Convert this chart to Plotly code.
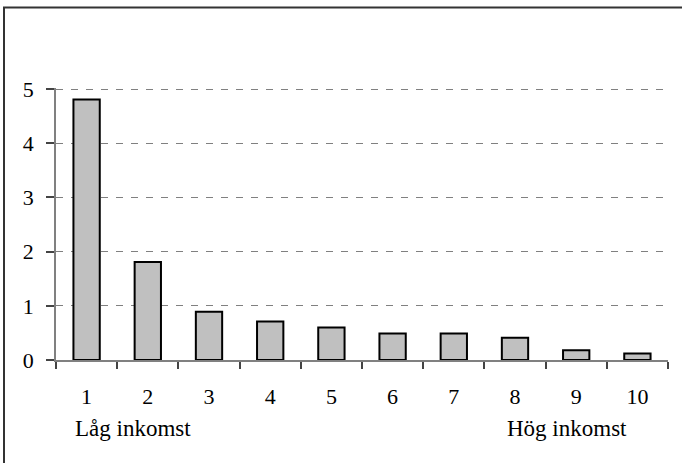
import plotly.graph_objects as go

categories = ["1", "2", "3", "4", "5", "6", "7", "8", "9", "10"]
values = [4.81, 1.81, 0.89, 0.71, 0.6, 0.49, 0.49, 0.41, 0.18, 0.12]
y_ticks = [0, 1, 2, 3, 4, 5]
low_label = "Låg inkomst"
high_label = "Hög inkomst"

W, H = 682, 463
L, R, T, B = 56, 14, 88, 103
pw, ph = W - L - R, H - T - B

def px_x(x):
    return (x - L) / pw

def px_y(y):
    return (H - B - y) / ph

FONT = "Liberation Serif, Times New Roman, serif"
FS = 22

fig = go.Figure(go.Bar(
    x=categories, y=values,
    marker=dict(color="#C0C0C0", line=dict(color="black", width=2)),
    hoverinfo="skip",
))

fig.update_layout(
    width=W, height=H,
    margin=dict(l=L, r=R, t=T, b=B),
    paper_bgcolor="white", plot_bgcolor="white",
    bargap=0.57,
    showlegend=False,
    font=dict(family=FONT, size=FS, color="black"),
    xaxis=dict(
        type="category", tickson="boundaries", ticks="outside", ticklen=7,
        tickcolor="#444", tickwidth=1.5,
        showline=True, linecolor="#808080", linewidth=1.5,
        showgrid=False, ticklabelstandoff=16,
        tickfont=dict(family=FONT, size=FS),
    ),
    yaxis=dict(
        range=[0, 5.02], tickvals=y_ticks, ticks="outside", ticklen=8,
        tickcolor="#444", tickwidth=1.5,
        showline=True, linecolor="#808080", linewidth=1.5,
        showgrid=True, gridcolor="#808080", gridwidth=1, griddash="7px,8px",
        zeroline=False, ticklabelstandoff=8,
        tickfont=dict(family=FONT, size=FS),
    ),
    annotations=[
        dict(text=low_label, x=px_x(133), y=px_y(428), xref="paper", yref="paper",
             showarrow=False, xanchor="center", yanchor="middle",
             font=dict(family=FONT, size=23)),
        dict(text=high_label, x=px_x(567), y=px_y(428), xref="paper", yref="paper",
             showarrow=False, xanchor="center", yanchor="middle",
             font=dict(family=FONT, size=23)),
    ],
    shapes=[
        dict(type="rect", xref="paper", yref="paper",
             x0=px_x(4), x1=px_x(690), y0=px_y(7.5), y1=px_y(470),
             line=dict(color="#333", width=2), layer="below"),
    ],
)

fig.write_html(
    "out.html",
    config={"displayModeBar": False},
    post_script="document.body.style.margin='0';document.body.style.overflow='hidden';",
)
